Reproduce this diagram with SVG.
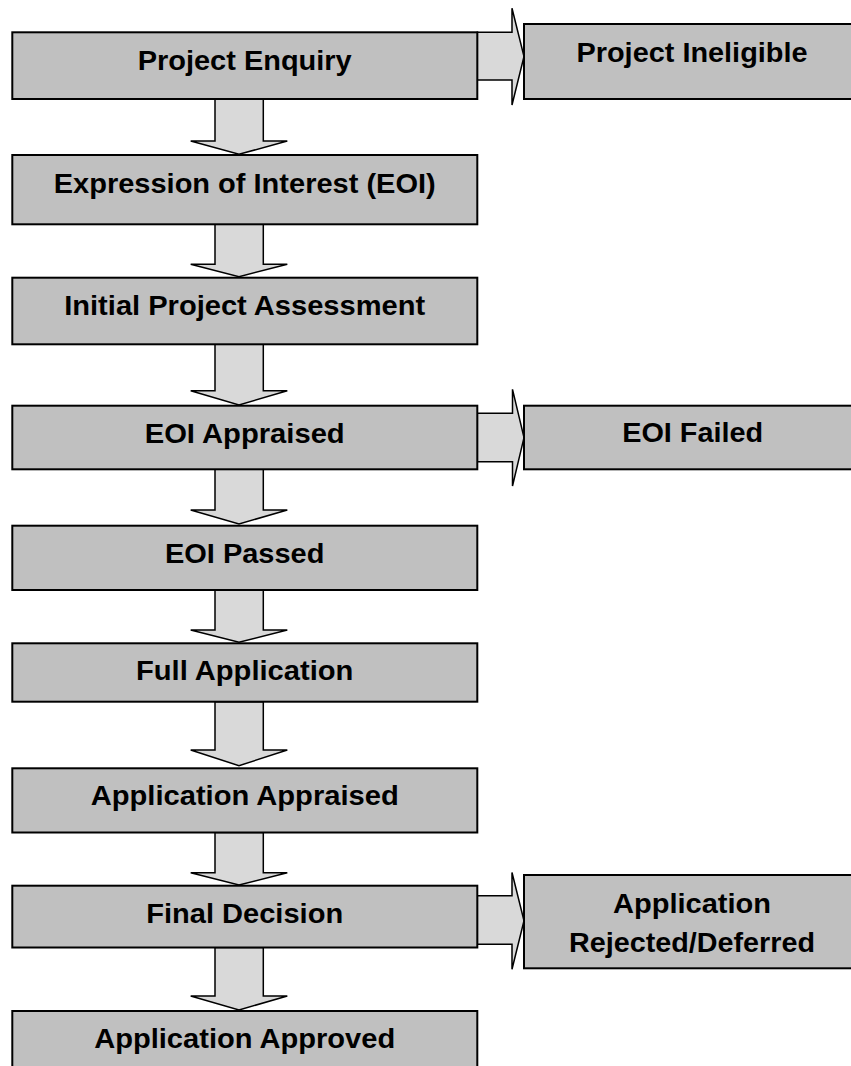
<svg xmlns="http://www.w3.org/2000/svg" width="851" height="1066" viewBox="0 0 851 1066">
<style>
.box{fill:#c0c0c0;stroke:#000;stroke-width:2}
.arr{fill:#d9d9d9;stroke:#000;stroke-width:1.5;stroke-linejoin:miter}
.t{font-family:"Liberation Sans",Arial,Helvetica,sans-serif;font-weight:bold;font-size:27px;fill:#000;text-anchor:middle}
</style>
<rect width="851" height="1066" fill="#fff"/>
<g id="connectors">
<polygon class="arr" points="215,99 263.3,99 263.3,141 287.3,141 239,154.3 190.7,141 215,141"/>
<polygon class="arr" points="215,224.3 263.3,224.3 263.3,264.3 287.3,264.3 239,276.7 190.7,264.3 215,264.3"/>
<polygon class="arr" points="215,344.3 263.3,344.3 263.3,390.7 287.3,390.7 239,405 190.7,390.7 215,390.7"/>
<polygon class="arr" points="215,469.3 263.3,469.3 263.3,510 287.3,510 239,524 190.7,510 215,510"/>
<polygon class="arr" points="215,590 263.3,590 263.3,630 287.3,630 239,642.3 190.7,630 215,630"/>
<polygon class="arr" points="215,701.7 263.3,701.7 263.3,750 287.3,750 239,765.7 190.7,750 215,750"/>
<polygon class="arr" points="215,832.5 263.3,832.5 263.3,872.7 287.3,872.7 239,885 190.7,872.7 215,872.7"/>
<polygon class="arr" points="215,947.5 263.3,947.5 263.3,996 287.3,996 239,1010 190.7,996 215,996"/>
<polygon class="arr" points="477.3,32.3 512,32.3 512,8.3 524,56.5 512,105 512,80 477.3,80"/>
<polygon class="arr" points="477.3,413.3 512.5,413.3 512.5,389.3 524,437.6 512.5,486 512.5,461.7 477.3,461.7"/>
<polygon class="arr" points="477.3,895.7 512,895.7 512,872.5 524,920.8 512,969.3 512,944.3 477.3,944.3"/>
</g>
<g id="n-project-enquiry">
<rect class="box" x="12.3" y="32.3" width="465" height="66.7"/>
<text class="t" x="244.7" y="70" textLength="214" lengthAdjust="spacingAndGlyphs">Project Enquiry</text>
</g>
<g id="n-project-ineligible">
<rect class="box" x="524" y="24" width="340" height="75"/>
<text class="t" x="692" y="62.3" textLength="231" lengthAdjust="spacingAndGlyphs">Project Ineligible</text>
</g>
<g id="n-eoi">
<rect class="box" x="12.3" y="155" width="465" height="69.3"/>
<text class="t" x="244.7" y="192.7" textLength="382" lengthAdjust="spacingAndGlyphs">Expression of Interest (EOI)</text>
</g>
<g id="n-initial-assessment">
<rect class="box" x="12.3" y="277.7" width="465" height="66.6"/>
<text class="t" x="244.7" y="315" textLength="361" lengthAdjust="spacingAndGlyphs">Initial Project Assessment</text>
</g>
<g id="n-eoi-appraised">
<rect class="box" x="12.3" y="405.7" width="465" height="63.6"/>
<text class="t" x="244.7" y="442.7" textLength="200" lengthAdjust="spacingAndGlyphs">EOI Appraised</text>
</g>
<g id="n-eoi-failed">
<rect class="box" x="524" y="405.7" width="340" height="63.6"/>
<text class="t" x="692.7" y="442.3" textLength="141" lengthAdjust="spacingAndGlyphs">EOI Failed</text>
</g>
<g id="n-eoi-passed">
<rect class="box" x="12.3" y="525.7" width="465" height="64.3"/>
<text class="t" x="244.7" y="562.7" textLength="159.5" lengthAdjust="spacingAndGlyphs">EOI Passed</text>
</g>
<g id="n-full-application">
<rect class="box" x="12.3" y="643.3" width="465" height="58.4"/>
<text class="t" x="244.7" y="680" textLength="217.5" lengthAdjust="spacingAndGlyphs">Full Application</text>
</g>
<g id="n-application-appraised">
<rect class="box" x="12.3" y="768.3" width="465" height="64.2"/>
<text class="t" x="244.7" y="805" textLength="308" lengthAdjust="spacingAndGlyphs">Application Appraised</text>
</g>
<g id="n-final-decision">
<rect class="box" x="12.3" y="885.7" width="465" height="61.8"/>
<text class="t" x="244.7" y="922.7" textLength="197" lengthAdjust="spacingAndGlyphs">Final Decision</text>
</g>
<g id="n-application-rejected">
<rect class="box" x="524" y="875" width="340" height="93.3"/>
<text class="t" x="692" y="912.7" textLength="158" lengthAdjust="spacingAndGlyphs">Application</text>
<text class="t" x="692" y="951.7" textLength="246" lengthAdjust="spacingAndGlyphs">Rejected/Deferred</text>
</g>
<g id="n-application-approved">
<rect class="box" x="12.3" y="1011" width="465" height="70"/>
<text class="t" x="244.7" y="1047.7" textLength="301" lengthAdjust="spacingAndGlyphs">Application Approved</text>
</g>
</svg>
